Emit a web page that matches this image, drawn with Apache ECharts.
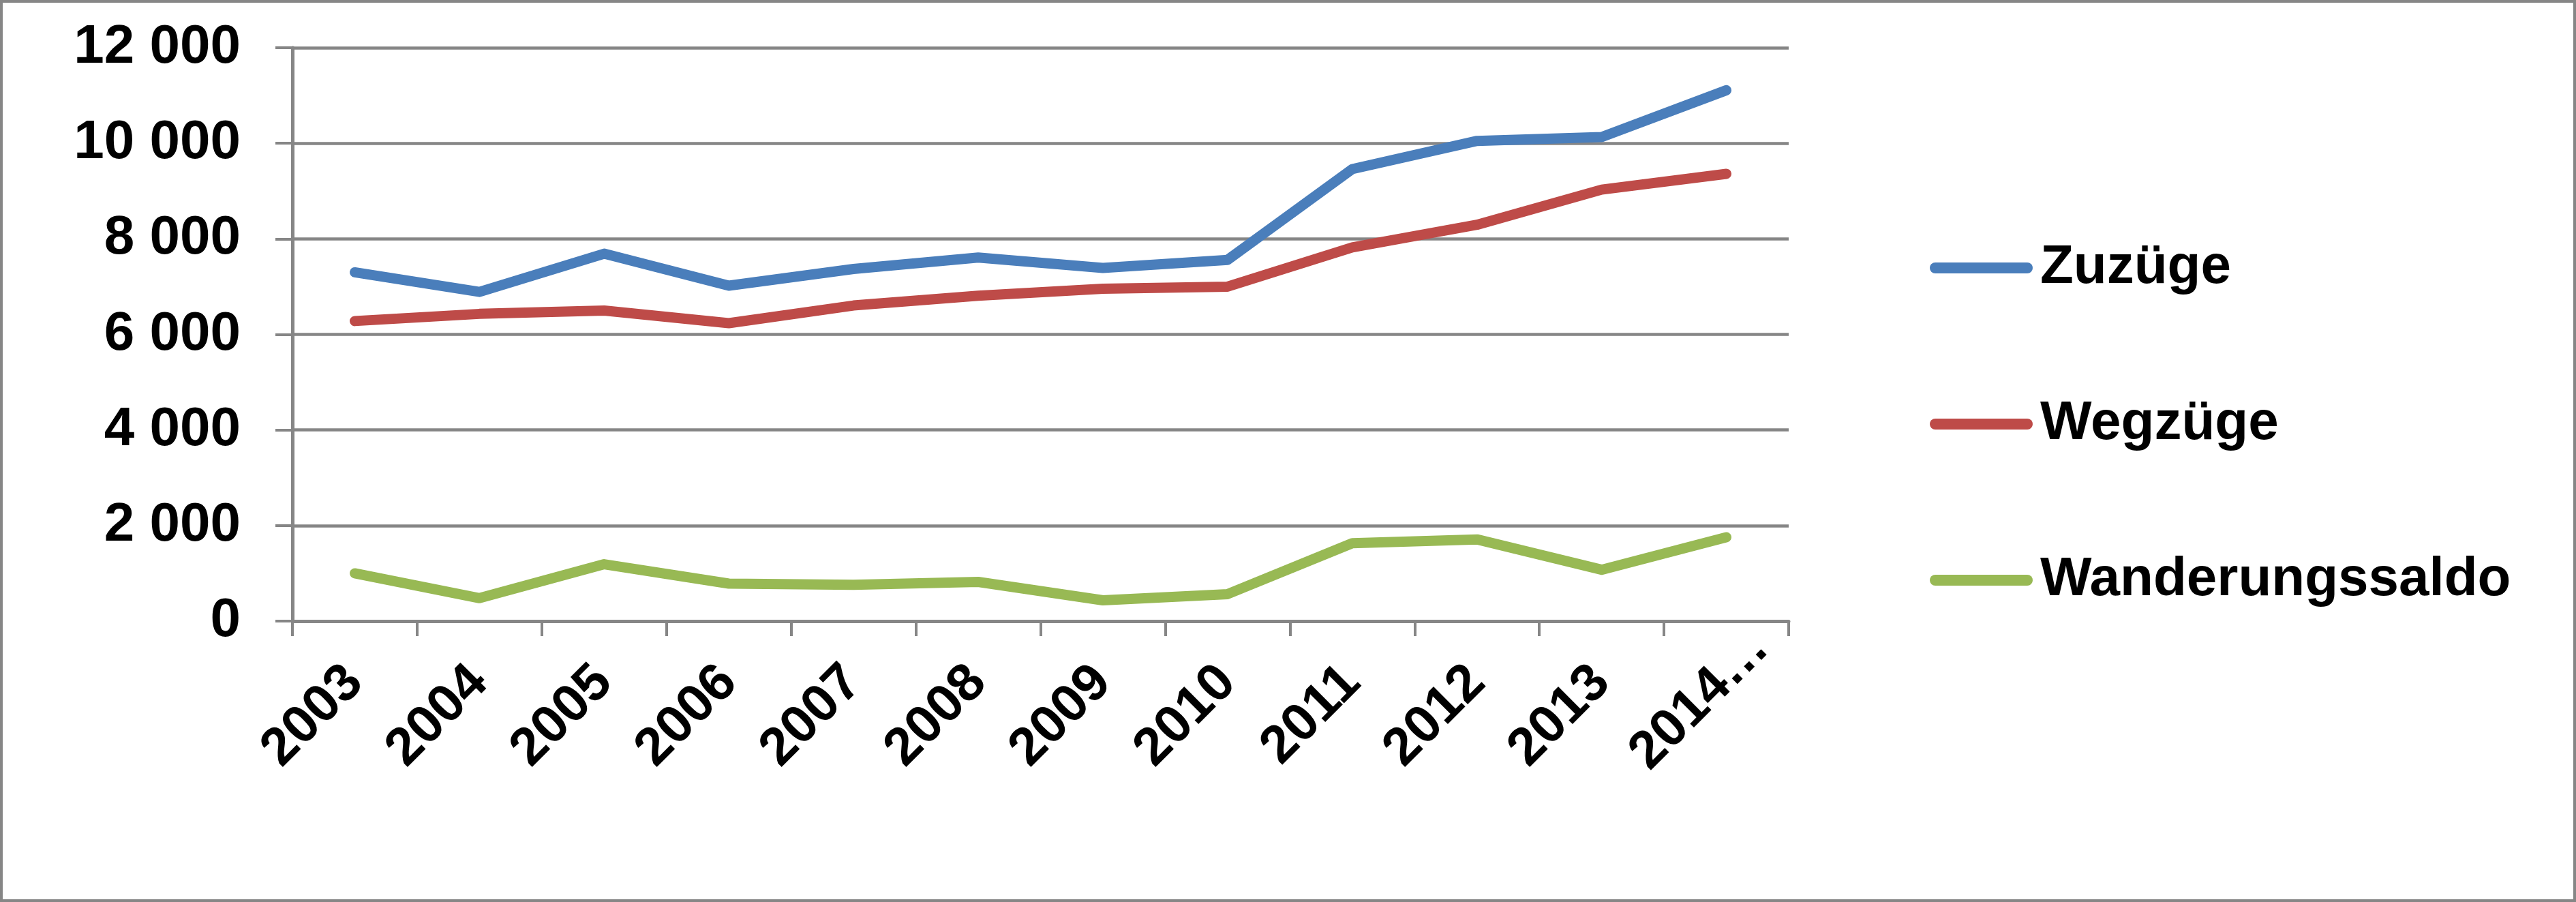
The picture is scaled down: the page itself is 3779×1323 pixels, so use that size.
<!DOCTYPE html>
<html>
<head>
<meta charset="utf-8">
<script src="https://cdn.jsdelivr.net/npm/echarts@6/dist/echarts.min.js"></script>
<style>
  html, body { margin: 0; padding: 0; background: #fff; }
  #main { width: 3779px; height: 1323px; }
</style>
</head>
<body>
<div id="main"></div>
<script>
// Jahre (letzte Kategorie im Original abgeschnitten)
var years = ['2003', '2004', '2005', '2006', '2007', '2008', '2009', '2010', '2011', '2012', '2013', '2014…'];
var zuzuege = [7300, 6890, 7690, 7020, 7370, 7610, 7390, 7560, 9460, 10050, 10130, 11110];
var wegzuege = [6280, 6430, 6500, 6235, 6605, 6810, 6955, 7000, 7820, 8295, 9030, 9360];
var saldo = [1000, 480, 1190, 785, 760, 820, 435, 565, 1630, 1710, 1075, 1755];
var seriesNames = ['Zuzüge', 'Wegzüge', 'Wanderungssaldo'];
var colors = ['#4A7EBB', '#BE4B48', '#98B954'];

var grey = '#868686';
var font = '"Liberation Sans", Arial, sans-serif';

function fmt(v) {
  // Tausendertrennzeichen als Leerzeichen
  return String(v).replace(/\B(?=(\d{3})+(?!\d))/g, ' ');
}

// abgeschnittenes Label sitzt im Original etwas weiter rechts oben
var xData = years.map(function(y, i) {
  if (i === years.length - 1) {
    return { value: y, textStyle: { padding: [56, -71, 0, 0] } };
  }
  return y;
});

var myChart = echarts.init(document.getElementById('main'));

var makeLine = function(name, data, color) {
  return {
    name: name,
    type: 'line',
    data: data,
    symbol: 'none',
    smooth: false,
    itemStyle: { color: color },
    lineStyle: { color: color, width: 15, cap: 'round', join: 'round' }
  };
};

var option = {
  backgroundColor: '#fff',
  animation: false,
  color: colors,
  textStyle: { fontFamily: font },
  grid: { left: 429, right: 1155, top: 70, bottom: 412 },
  legend: {
    orient: 'vertical',
    left: 2826,
    top: 348,
    itemWidth: 151,
    itemHeight: 16,
    itemGap: 149,
    icon: 'path://M8,0 L143,0 A8,8 0 0 1 143,16 L8,16 A8,8 0 0 1 8,0 Z',
    textStyle: {
      fontFamily: font,
      fontSize: 80,
      fontWeight: 'bold',
      color: '#000',
      lineHeight: 80,
      padding: [0, 0, 0, 6]
    },
    data: seriesNames
  },
  xAxis: {
    type: 'category',
    data: xData,
    boundaryGap: true,
    axisLine: { lineStyle: { color: grey, width: 5 } },
    axisTick: { show: true, length: 22, lineStyle: { color: grey, width: 4 } },
    axisLabel: {
      rotate: 45,
      margin: 78,
      interval: 0,
      color: '#000',
      fontFamily: font,
      fontSize: 78,
      fontWeight: 'bold'
    },
    splitLine: { show: false }
  },
  yAxis: {
    type: 'value',
    min: 0,
    max: 12000,
    interval: 2000,
    axisLine: { show: true, lineStyle: { color: grey, width: 5 } },
    axisTick: { show: true, length: 25, lineStyle: { color: grey, width: 4 } },
    axisLabel: {
      margin: 76,
      color: '#000',
      fontFamily: font,
      fontSize: 80,
      fontWeight: 'bold',
      formatter: fmt
    },
    splitLine: { show: true, lineStyle: { color: grey, width: 4.5 } }
  },
  graphic: [{
    type: 'rect',
    shape: { x: 2, y: 2, width: 3775, height: 1319 },
    style: { fill: 'none', stroke: grey, lineWidth: 4 },
    silent: true
  }],
  series: [
    makeLine(seriesNames[0], zuzuege, colors[0]),
    makeLine(seriesNames[1], wegzuege, colors[1]),
    makeLine(seriesNames[2], saldo, colors[2])
  ]
};
myChart.setOption(option);
</script>
</body>
</html>
